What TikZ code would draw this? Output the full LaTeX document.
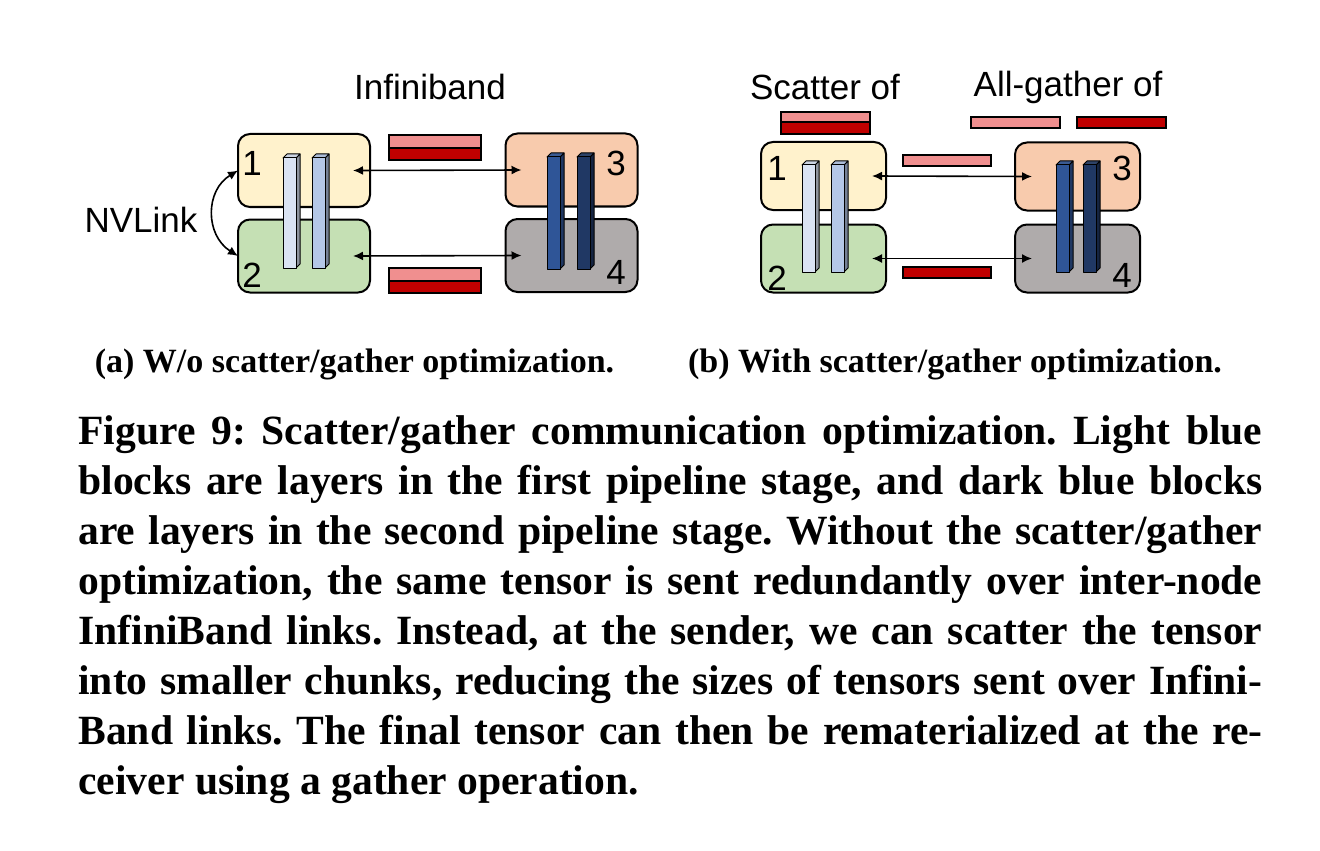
\documentclass[tikz,border=0pt]{standalone}
\usepackage{fontspec}
\setmainfont{Liberation Serif}
\setsansfont{Liberation Sans}
\usetikzlibrary{arrows.meta, positioning}

\definecolor{gpuA}{HTML}{FFF2CC}
\definecolor{gpuB}{HTML}{C5E0B4}
\definecolor{gpuC}{HTML}{F8CBAD}
\definecolor{gpuD}{HTML}{AFABAB}
\definecolor{lyrA}{HTML}{DAE3F3}
\definecolor{lyrB}{HTML}{B4C7E7}
\definecolor{lyrC}{HTML}{2F5597}
\definecolor{lyrD}{HTML}{203864}
\definecolor{chunkP}{HTML}{F08F8F}
\definecolor{chunkR}{HTML}{C00000}

\begin{document}
\frenchspacing
\begin{tikzpicture}[x=0.5pt, y=-0.5pt,
    font=\sffamily\fontsize{17.5}{20}\selectfont,
    gpu/.style={draw, line width=1pt, rounded corners=6pt, minimum width=66pt,
                minimum height=36.5pt, inner sep=0pt, outer sep=0pt},
    gpusm/.style={gpu, minimum width=62.5pt, minimum height=34pt},
    chunk/.style={draw, line width=0.9pt},
    layer/.style={draw, line width=0.5pt, line join=round},
    link/.style={{Latex[length=5pt,width=4.5pt]}-{Latex[length=5pt,width=4.5pt]},
                 line width=0.8pt},
    num/.style={inner sep=0pt},
    subcap/.style={font=\rmfamily\bfseries\fontsize{17}{20}\selectfont, inner sep=0pt}
  ]
    \useasboundingbox (0,0) rectangle (1320,850);

    % (a) without scatter/gather
    \node[gpu, fill=gpuA] (a1) at (304,170.5) {};
    \node[gpu, fill=gpuB] (a2) at (304,256) {};
    \node[gpu, fill=gpuC] (a3) at (571.5,170) {};
    \node[gpu, fill=gpuD] (a4) at (571.5,255.5) {};

    % (b) with scatter/gather
    \node[gpusm, fill=gpuA] (b1) at (823.5,176) {};
    \node[gpusm, fill=gpuB] (b2) at (823.5,258.5) {};
    \node[gpusm, fill=gpuC] (b3) at (1077.5,176.5) {};
    \node[gpusm, fill=gpuD] (b4) at (1077.5,258.5) {};

    % layer blocks
    \foreach \x/\t/\b/\c in {283/158/268/lyrA, 312/158/268/lyrB,
                             547/157/269/lyrC, 577/157/269/lyrD,
                             802/165/272/lyrA, 831/165/272/lyrB,
                             1056/165/272/lyrC, 1083/165/272/lyrD} {
      \draw[layer, fill=\c!65!black] (\x+13,\t) -- (\x+17,\t-4) -- (\x+17,\b-4) -- (\x+13,\b) -- cycle;
      \draw[layer, fill=\c!85!gray] (\x,\t) -- (\x+4,\t-4) -- (\x+17,\t-4) -- (\x+13,\t) -- cycle;
      \draw[layer, fill=\c] (\x,\t) rectangle (\x+13,\b);
    }

    \node[num] (n1) at (252,163) {1};
    \node[num] (n2) at (252,275) {2};
    \node[num] (n3) at (616,163) {3};
    \node[num] (n4) at (616,272) {4};
    \node[num] (m1) at (777,168) {1};
    \node[num] (m2) at (777,278) {2};
    \node[num] (m3) at (1122,168) {3};
    \node[num] (m4) at (1122,275) {4};

    % links
    \draw[link] ([xshift=-8.5pt]a1.east) -- ([xshift=8pt]a3.west);
    \draw[link] ([xshift=-8.5pt]a2.east) -- ([xshift=8pt]a4.west);
    \draw[link] ([xshift=-7pt]b1.east) -- ([xshift=8.5pt]b3.west);
    \draw[link] ([xshift=-7pt]b2.east) -- ([xshift=8.5pt]b4.west);
    \draw[link] (a1.west) .. controls +(-33,20) and +(-33,-21) .. (a2.west);

    \node (nvl) at (141,220) {NVLink};
    \node (ib) at (430,87) {Infiniband};
    \node (sc) at (825,87) {Scatter of};
    \node (ag) at (1068,87) {All-gather of};

    % tensor chunks
    \draw[chunk, fill=chunkP] (389,135) rectangle (481,148);
    \draw[chunk, fill=chunkR] (389,148) rectangle (481,160);
    \draw[chunk, fill=chunkP] (389,268) rectangle (481,281);
    \draw[chunk, fill=chunkR] (389,281) rectangle (481,293);
    \draw[chunk, fill=chunkP] (781,112) rectangle (870,122);
    \draw[chunk, fill=chunkR] (781,122) rectangle (870,134);
    \draw[chunk, fill=chunkP] (971,117) rectangle (1060,128);
    \draw[chunk, fill=chunkR] (1077,117) rectangle (1166,128);
    \draw[chunk, fill=chunkP] (903,155) rectangle (991,166);
    \draw[chunk, fill=chunkR] (903,267) rectangle (991,278);

    % captions
    \node[subcap, anchor=base] (capa) at (354.5,372) {(a) W/o scatter/gather optimization.};
    \node[subcap, anchor=base] (capb) at (955,372) {(b) With scatter/gather optimization.};
    \node[anchor=base west, inner sep=0pt, text width=592pt, align=justify,
          font=\rmfamily\bfseries\fontsize{20.8}{25}\selectfont] (fig) at (78,444)
      {Figure 9: Scatter/gather communication optimization. Light blue\linebreak
       blocks are layers in the first pipeline stage, and dark blue blocks\linebreak
       are layers in the second pipeline stage. Without the scatter/gather\linebreak
       optimization, the same tensor is sent redundantly over inter-node\linebreak
       InfiniBand links. Instead, at the sender, we can scatter the tensor\linebreak
       into smaller chunks, reducing the sizes of tensors sent over Infini-\linebreak
       Band links. The final tensor can then be rematerialized at the re-\linebreak
       ceiver using a gather operation.};
\end{tikzpicture}
\end{document}
